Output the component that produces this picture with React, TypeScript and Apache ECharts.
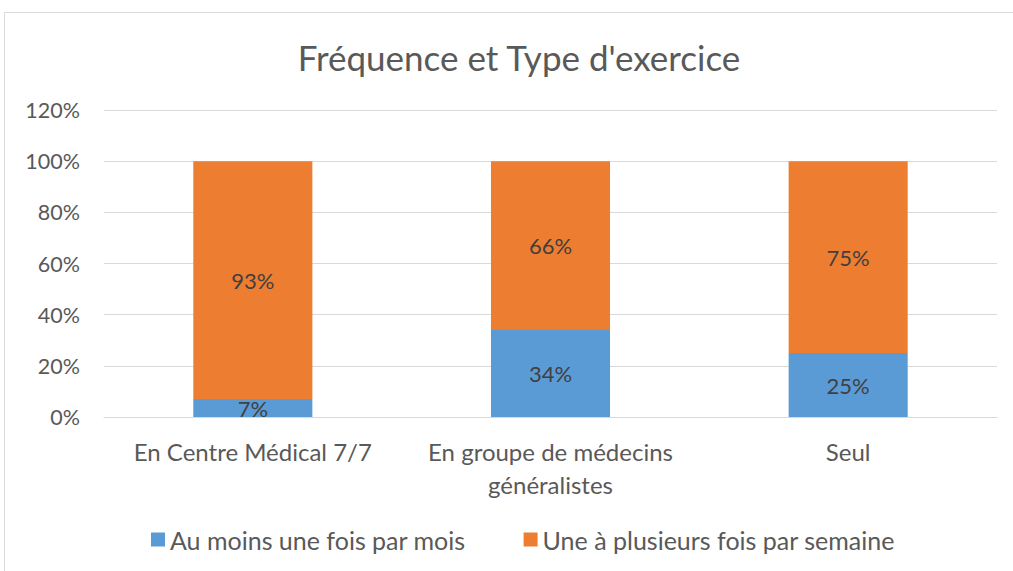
import React, { useEffect, useRef } from "react";
import * as echarts from "echarts";

const categories = ["En Centre Médical 7/7", "En groupe de médecins\ngénéralistes", "Seul"];
const seriesNames = ["Au moins une fois par mois", "Une à plusieurs fois par semaine"];
const monthly = [7, 34, 25];
const weekly = [93, 66, 75];
const FONT = "Lato";

export default function App() {
  const ref = useRef<HTMLDivElement>(null);
  useEffect(() => {
    const chart = echarts.init(ref.current!, null, { renderer: "svg" });
    const label = {
      show: true,
      position: "inside",
      formatter: "{c}%",
      color: "#404040",
      fontSize: 22,
      fontFamily: FONT,
    };
    chart.setOption({
      animation: false,
      backgroundColor: "#fff",
      textStyle: { fontFamily: FONT },
      graphic: [
        {
          type: "rect",
          shape: { x: 4.5, y: 12.5, width: 1020, height: 580 },
          style: { fill: "none", stroke: "#D9D9D9", lineWidth: 1 },
          silent: true,
        },
      ],
      title: {
        text: "Fréquence et Type d'exercice",
        left: 514,
        textAlign: "center",
        top: 34,
        textStyle: { fontSize: 35, fontWeight: "normal", color: "#595959", fontFamily: FONT },
      },
      grid: { left: 104, right: 16, top: 110, bottom: 154, containLabel: false },
      legend: {
        bottom: 14,
        left: 146,
        itemWidth: 14,
        itemHeight: 14,
        itemGap: 58,
        itemStyle: { borderWidth: 0 },
        icon: "rect",
        textStyle: { fontSize: 25, color: "#595959", fontFamily: FONT },
        data: seriesNames,
      },
      xAxis: {
        type: "category",
        data: categories,
        axisLine: { lineStyle: { color: "#D9D9D9" } },
        axisTick: { show: false },
        axisLabel: {
          interval: 0,
          hideOverlap: false,
          fontSize: 24,
          color: "#595959",
          margin: 18,
          lineHeight: 33,
          fontFamily: FONT,
        },
      },
      yAxis: {
        type: "value",
        min: 0,
        max: 120,
        interval: 20,
        axisLine: { show: false },
        axisTick: { show: false },
        splitLine: { lineStyle: { color: "#D9D9D9" } },
        axisLabel: { formatter: "{value}%", fontSize: 21.5, color: "#595959", margin: 24, fontFamily: FONT },
      },
      series: [
        {
          name: seriesNames[0],
          type: "bar",
          stack: "total",
          data: monthly,
          barWidth: "40%",
          itemStyle: { color: "#5B9BD5" },
          label,
        },
        {
          name: seriesNames[1],
          type: "bar",
          stack: "total",
          data: weekly,
          barWidth: "40%",
          itemStyle: { color: "#ED7D31" },
          label,
        },
      ],
    });
    return () => chart.dispose();
  }, []);
  return (
    <div
      ref={ref}
      style={{ position: "absolute", left: 0, top: 0, width: 1013, height: 571 }}
    />
  );
}
